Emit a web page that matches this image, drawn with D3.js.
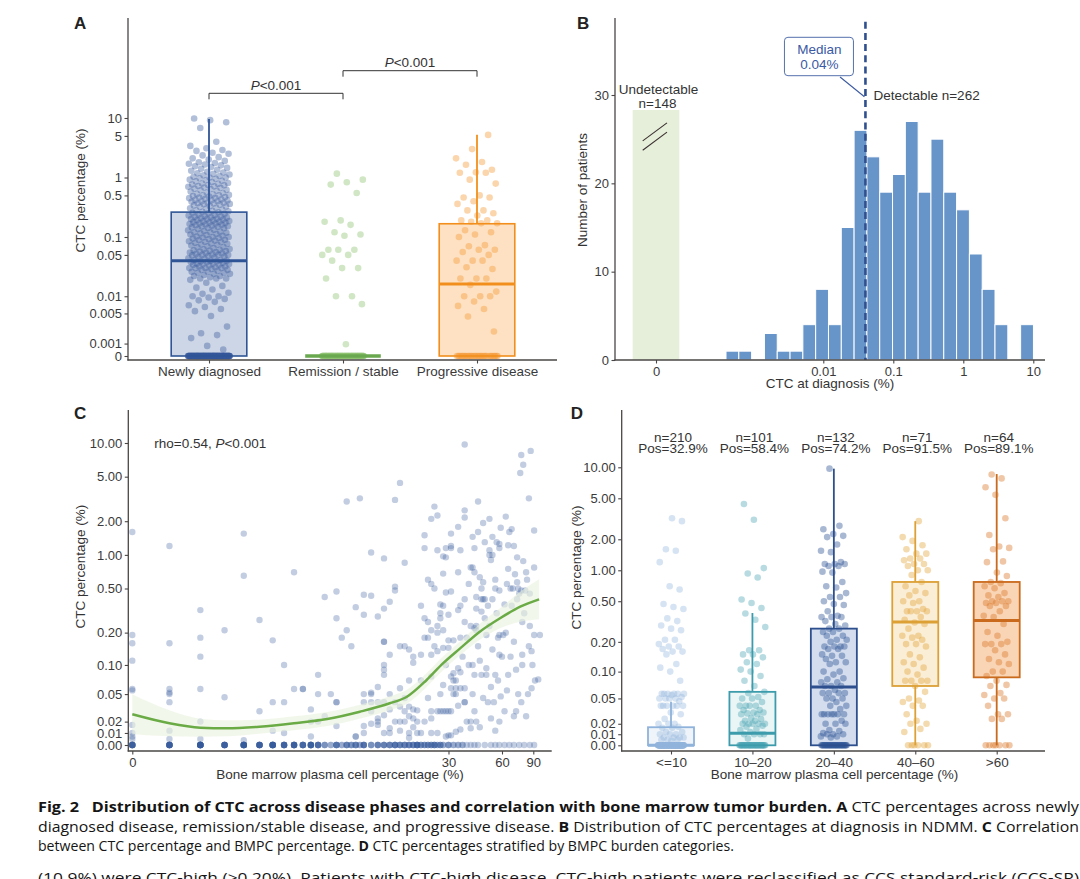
<!DOCTYPE html>
<html>
<head>
<meta charset="utf-8">
<title>Fig. 2 - CTC distribution and bone marrow tumor burden</title>
<script src="https://cdn.jsdelivr.net/npm/d3@7"></script>
<style>
body { margin: 0; background: #fff; }
svg { display: block; }
text { font-family: "Liberation Sans", Arial, sans-serif; fill: #333; }
.tick text { font-size: 13px; fill: #3a3a3a; }
.lbl { font-size: 13.5px; }
.panel { font-size: 17px; font-weight: bold; fill: #222; }
.cap { font-family: "Open Sans", sans-serif; font-size: 14.5px; fill: #151515; white-space: pre; }
</style>
</head>
<body>
<svg width="1080" height="879"></svg>
<script>

// ---------- A: CTC by disease phase ----------
var phases = ["Newly diagnosed", "Remission / stable", "Progressive disease"];
var newlyDetectable = [
  0.0005, 0.0008, 0.0015, 0.0018, 0.002, 0.0028, 0.0045, 0.0055, 0.006, 0.0065, 0.007,
  0.008, 0.0085, 0.009, 0.0095, 0.01, 0.01, 0.011, 0.0115, 0.013, 0.014, 0.015, 0.017,
  0.019, 0.02, 0.02, 0.02, 0.021, 0.022, 0.022, 0.023, 0.024, 0.024, 0.025, 0.025, 0.026, 0.026, 0.027,
  0.028, 0.028, 0.029, 0.03, 0.03, 0.03, 0.03, 0.031, 0.032, 0.032, 0.033, 0.034, 0.034, 0.035, 0.035,
  0.036, 0.036, 0.037, 0.038, 0.038, 0.039, 0.039, 0.04, 0.04, 0.041, 0.041,
  0.043, 0.044, 0.045, 0.046, 0.047, 0.048, 0.049, 0.05, 0.05, 0.05, 0.051, 0.052, 0.053, 0.054,
  0.055, 0.056, 0.057, 0.058, 0.059, 0.06, 0.061, 0.062, 0.063,
  0.065, 0.067, 0.068, 0.07, 0.072, 0.074, 0.075, 0.077, 0.078, 0.08, 0.082, 0.083, 0.085, 0.087,
  0.089, 0.09, 0.092, 0.094, 0.096,
  0.098, 0.1, 0.1, 0.102, 0.105, 0.108, 0.11, 0.112, 0.115, 0.118, 0.12, 0.12, 0.123, 0.126, 0.13,
  0.133, 0.136, 0.14, 0.142, 0.145, 0.148,
  0.15, 0.152, 0.155, 0.158, 0.16, 0.162, 0.165, 0.168, 0.17, 0.173, 0.175, 0.178, 0.18, 0.183,
  0.186, 0.19, 0.193, 0.196, 0.2, 0.2, 0.204, 0.208, 0.212, 0.215, 0.218, 0.222, 0.225,
  0.23, 0.235, 0.24, 0.245, 0.25, 0.255, 0.26, 0.265, 0.27, 0.275, 0.28, 0.29, 0.3, 0.305, 0.31,
  0.32, 0.325, 0.33, 0.34,
  0.35, 0.355, 0.36, 0.365, 0.37, 0.375, 0.38, 0.39, 0.4, 0.4, 0.41, 0.415, 0.42, 0.43, 0.44, 0.45,
  0.455, 0.46, 0.47, 0.48, 0.49, 0.5, 0.5, 0.51, 0.52,
  0.53, 0.55, 0.56, 0.58, 0.6, 0.61, 0.62, 0.64, 0.65, 0.67, 0.68, 0.7, 0.71, 0.72, 0.74, 0.75, 0.76, 0.78, 0.79,
  0.81, 0.84, 0.86, 0.88, 0.9, 0.92, 0.95, 0.97, 1, 1, 1.03, 1.06, 1.09, 1.12, 1.15, 1.18, 1.21,
  1.25, 1.3, 1.35, 1.4, 1.45, 1.5, 1.55, 1.6, 1.65, 1.7, 1.75, 1.8,
  1.9, 2, 2.1, 2.2, 2.35, 2.5, 2.6, 2.8,
  2.9, 3.1, 3.4, 4.0,
  6.8, 8.5, 9.2, 9.8
];
var remissionDetectable = [1.16, 0.92, 0.83, 0.76, 0.55, 0.19, 0.18, 0.16, 0.12, 0.11, 0.105,
  0.061, 0.061, 0.061, 0.05, 0.05, 0.04, 0.03, 0.03, 0.02, 0.01, 0.01, 0.0073, 0.00094];
var progressiveDetectable = [5.2, 3.0, 2.1, 1.82, 1.64, 1.35, 1.22, 1.2, 1.2, 0.92, 0.79, 0.5, 0.46,
  0.46, 0.4, 0.36, 0.28, 0.28, 0.25, 0.23, 0.19, 0.19, 0.18, 0.17, 0.17, 0.13, 0.12, 0.11, 0.1,
  0.073, 0.07, 0.061, 0.061, 0.056, 0.05, 0.04, 0.04, 0.04, 0.031, 0.029, 0.02, 0.02, 0.02,
  0.0156, 0.012, 0.01, 0.01, 0.01, 0.0081, 0.0068, 0.006, 0.0044, 0.0022];
var phaseZeroCounts = [148, 110, 33];
var phaseQ1 = [0, 0, 0];
var phaseMedian = [0.04, 0, 0.0162];
var phaseQ3 = [0.262, 0, 0.167];
var phaseWhiskerHi = [9.6, 0, 5.25];
var phasePvalues = ["<0.001", "<0.001"];
var ticksA = [0, 0.001, 0.005, 0.01, 0.05, 0.1, 0.5, 1, 5, 10];
var tickLabelsA = ["0", "0.001", "0.005", "0.01", "0.05", "0.1", "0.5", "1", "5", "10"];

// ---------- B: histogram at diagnosis ----------
var histLog10Start = -3.39;
var histLog10Width = 0.183;
var histCounts = [1, 1, 0, 3, 1, 1, 4, 8, 4, 15, 26, 23, 19, 21, 27, 19, 25, 19, 17, 12, 8, 4, 0, 4];
var undetectableCount = 148;
var detectableCount = 262;
var medianAtDiagnosis = 0.04;
var ticksBx = [0.01, 0.1, 1, 10];
var tickLabelsBx = ["0.01", "0.1", "1", "10"];
var ticksBy = [0, 10, 20, 30];

// ---------- C: CTC vs BMPC ----------
var bmpcCtc = [
  [0,1.6],[0,0.19],[0,0.16],[0,0.11],[0,0.057],[0,0.055],[0,0.017],[0,0.01],[0,0.007],[0,0.005],
  [0.5,1.2],[0.5,0.16],[0.5,0.057],[0.5,0.052],[0.5,0.05],[0.5,0.04],[0.5,0.012],[0.5,0.005],
  [1,0.32],[1,0.18],[1,0.12],[1,0.057],[1,0.02],[1,0.005],
  [1.5,0.21],[1.5,0.046],[2,1.55],[2,0.65],[2,0.004],[2.5,0.26],[2.5,0.03],
  [3,0.17],[3,0.04],[3,0.012],[3.5,0.1],[3.5,0.04],[3.5,0.01],[4,0.7],[4,0.057],
  [4.5,0.057],[4.5,0.057],[5,0.032],[5,0.02],[5,0.007],[5.5,0.08],[5.5,0.05],[5.5,0.02],
  [6,0.42],[6,0.025],[6.5,0.05],[7,0.47],[7,0.27],[7,0.04],[7,0.04],[7,0.016],[7.5,0.18],
  [8,3],[8,0.21],[8.5,0.15],[9,0.34],[9,0.007],[9,0.007],[9.5,3.2],
  [10,0.44],[10,0.29],[10,0.05],[10,0.04],[10,0.016],[10,0.01],
  [16,4.4],[15,3.1],[11,1.05],[13,0.93],[17,0.85],[15,0.52],[15,0.48],[11,0.43],[14,0.38],[13,0.33],
  [12,0.28],[13,0.165],[13,0.165],[16,0.15],[17,0.15],[18,0.14],[14,0.125],[19,0.12],[19,0.105],[13,0.1],
  [13,0.09],[13,0.08],[16,0.058],[18,0.07],[11,0.052],[11,0.05],[11,0.04],[12,0.04],[13,0.04],[14,0.032],
  [11,0.03],[13,0.026],[12,0.023],[17,0.045],[19,0.032],[20,0.031],[18,0.035],[11,0.018],[12,0.02],[12,0.017],
  [15,0.02],[16,0.02],[17,0.02],[19,0.023],[13,0.01],[14,0.01],[18,0.01],[20,0.01],[18,0.006],
  [12,0.06],[14,0.05],[15,0.04],[16,0.035],[17,0.03],[18,0.025],[19,0.015],[20,0.02],[14,0.014],[16,0.012],
  [25,2.7],[24,2.1],[26,2.25],[22,1.5],[22,1.15],[24,0.55],[26,1.1],[29,1.15],[29,0.95],[28,0.68],
  [27,0.36],[27,0.3],[22,0.27],[23,0.25],[27,0.27],[26,0.23],[24,0.21],[26,0.2],[23,0.18],[22,0.18],
  [30,0.17],[21,0.125],[24,0.125],[26,0.135],[28,0.145],[21,0.07],[24,0.077],[28,0.063],[24,0.03],[26,0.03],
  [27,0.03],[30,0.03],[24,0.023],[22,0.02],[21,0.01],[24,0.01],[26,0.01],[30,0.008],
  [37,9.7],[37,2.5],[37,2.16],[34,1.78],[31,1.55],[31,1.15],[31,1.2],[35,1.1],[28,0.97],[40,0.77],
  [39,0.55],[34,0.7],[29,0.46],[31,0.47],[37,0.4],[34,0.32],[35,0.35],[28,0.35],[30,0.29],[37,0.25],
  [40,0.23],[35,0.18],[32,0.17],[28,0.21],[30,0.145],[38,0.18],[39,0.1],[34,0.093],[32,0.083],[35,0.085],
  [31,0.077],[32,0.07],[33,0.07],[31,0.058],[33,0.058],[35,0.058],[37,0.058],[33,0.05],[37,0.04],[34,0.036],
  [28,0.03],[29,0.03],[31,0.03],[38,0.02],[40,0.02],[40,0.014],[35,0.013],[33,0.011],[31,0.008],[29,0.007],
  [32,0.05],[37,0.04],[25,0.5],[23,0.6],[21,0.35],[25,0.15],[29,0.1],[23,0.045],[27,0.05],[36,0.12],
  [44,3.0],[47,1.93],[51,2.1],[59,1.75],[41,1.45],[42,1.15],[53,1.45],[56,1.3],[58,1.25],[58,1.15],
  [51,1.1],[51,1.0],[53,1.0],[41,0.77],[42,0.7],[45,0.63],[47,0.57],[55,0.5],[58,0.48],[43,0.42],
  [46,0.4],[47,0.4],[48,0.4],[53,0.4],[43,0.33],[46,0.31],[48,0.27],[43,0.23],[42,0.22],[43,0.21],
  [51,0.23],[58,0.19],[57,0.18],[53,0.14],[58,0.125],[60,0.12],[45,0.11],[41,0.1],[49,0.093],[46,0.08],
  [49,0.08],[55,0.08],[57,0.07],[42,0.08],[41,0.05],[50,0.04],[54,0.04],[59,0.047],[42,0.03],[58,0.02],
  [52,0.023],[43,0.02],[44,1.6],[48,1.3],[52,0.9],[55,0.6],[46,0.5],[50,0.35],[56,0.3],[44,0.15],
  [52,0.06],[47,0.045],[45,0.015],[55,0.012],[49,0.19],
  [77,7.8],[87,8.5],[79,6.4],[76,5.4],[85,3.2],[63,2.2],[68,1.7],[91,1.65],[65,1.22],[73,0.95],
  [79,0.88],[91,0.77],[65,0.75],[71,0.67],[82,0.7],[73,0.57],[74,0.5],[77,0.48],[67,0.5],[69,0.5],
  [81,0.48],[86,0.45],[62,0.36],[73,0.4],[78,0.25],[86,0.23],[91,0.19],[98,0.19],[61,0.19],[70,0.165],
  [78,0.125],[88,0.135],[65,0.08],[72,0.09],[78,0.1],[89,0.1],[74,0.05],[84,0.05],[77,0.04],[88,0.058],
  [96,0.072],[72,0.03],[62,0.03],[66,1.6],[70,1.2],[83,0.6],[64,0.55],[75,0.45],[68,0.35],[80,0.3],
  [63,0.2],[85,0.15],[67,0.12],[92,0.07],[64,0.055],[82,0.025],[70,0.025]
];
// undetectable CTC: [BMPC %, number of patients]
var bmpcZeros = [
  [0,9],[0.5,10],[1,13],[1.5,9],[2,11],[2.5,9],[3,11],[3.5,8],[4,9],[4.5,7],[5,9],[5.5,6],
  [6,3],[6.5,2],[7,5],[7.5,2],[8,4],[8.5,3],[9,4],[9.5,2],[10,5],
  [11,3],[12,4],[13,4],[14,4],[15,5],[16,4],[17,4],[18,4],[19,4],[20,6],
  [21,3],[22,3],[23,3],[24,3],[25,4],[26,2],[27,3],[28,2],[30,3],[32,2],[34,2],[36,2],[38,1],[40,1],
  [42,1],[44,1],[48,1],[52,1],[55,1],[58,1],
  [62,1],[66,1],[70,1],[75,1],[80,1],[86,1],[91,1]
];
var smoothBmpc = [0, 0.5, 1, 1.55, 2.5, 4, 6.2, 9.5, 14, 17.5, 22.6, 28, 35, 45, 58.5, 76, 97];
var smoothCtc = [0.027, 0.0185, 0.0146, 0.014, 0.0154, 0.0185, 0.0224, 0.0296, 0.0387, 0.0466, 0.071, 0.104, 0.144, 0.204, 0.27, 0.343, 0.40];
var smoothLo = [0.0089, 0.0072, 0.0069, 0.0072, 0.0094, 0.0123, 0.016, 0.0227, 0.0311, 0.0382, 0.060, 0.0888, 0.124, 0.172, 0.219, 0.251, 0.264];
var smoothHi = [0.0498, 0.0311, 0.0227, 0.0212, 0.0218, 0.025, 0.0293, 0.0371, 0.0471, 0.056, 0.0835, 0.121, 0.167, 0.241, 0.332, 0.468, 0.604];
var rho = "0.54";
var ticksCx = [0, 30, 60, 90];
var ticksCy = [0, 0.01, 0.02, 0.05, 0.1, 0.2, 0.5, 1, 2, 5, 10];

// ---------- D: CTC by BMPC category ----------
var bmpcGroups = ["<=10", "10\u201320", "20\u201340", "40\u201360", ">60"];
var groupUpper = [10, 20, 40, 60, Infinity];
var groupN = [210, 101, 132, 71, 64];
var groupPos = ["32.9%", "58.4%", "74.2%", "91.5%", "89.1%"];
var groupQ1 = [0, 0, 0, 0.07, 0.087];
var groupMedian = [0, 0.0109, 0.068, 0.313, 0.325];
var groupQ3 = [0.0166, 0.06, 0.27, 0.77, 0.77];
var groupWhiskerLo = [0, 0, 0, 0, 0];
var groupWhiskerHi = [0.0455, 0.384, 9.7, 3.0, 8.6];

// ---------- drawing ----------
var svg = d3.select("svg");
var axisColor = "#4a4646";
var golden = 0.6180339887;
function spread(i, half) { return ((i * golden + 0.37) % 1 - 0.5) * 2 * half; }

function vline(g, x, y0, y1) {
  g.append("line").attr("x1", x).attr("x2", x).attr("y1", y0).attr("y2", y1)
    .attr("stroke", axisColor).attr("stroke-width", 1.3);
}
function hline(g, y, x0, x1) {
  g.append("line").attr("x1", x0).attr("x2", x1).attr("y1", y).attr("y2", y)
    .attr("stroke", axisColor).attr("stroke-width", 1.3);
}
function styleAxis(g) {
  g.attr("color", axisColor).select(".domain").remove();
  g.selectAll(".tick line").attr("stroke-width", 1.1);
}
function yTitle(x, y, txt) {
  svg.append("text").attr("class", "lbl").attr("text-anchor", "middle")
    .attr("transform", "translate(" + x + "," + y + ") rotate(-90)").text(txt);
}
function xTitle(x, y, txt) {
  svg.append("text").attr("class", "lbl").attr("text-anchor", "middle")
    .attr("x", x).attr("y", y).text(txt);
}
function panelLetter(x, y, txt) {
  svg.append("text").attr("class", "panel").attr("x", x).attr("y", y).text(txt);
}

// ===== Panel A =====
var tA = function(v) { return Math.asinh(v / 0.002); };
var yAlin = d3.scaleLinear().domain([0, tA(10)]).range([356, 118]);
var yA = function(v) { return yAlin(tA(v)); };
var xA = d3.scalePoint().domain(phases).range([209, 477]);
var gA = svg.append("g");

var phaseStroke = ["#2f5597", "#6aa84f", "#f28f1c"];
var phaseFill = ["#cdd6e6", "#dbeccf", "#fde1c2"];
var phasePoint = ["#34589a", "#8fc372", "#f69a3a"];
var phaseDetect = [newlyDetectable, remissionDetectable, progressiveDetectable];
var bw = 37.8;

phases.forEach(function(p, i) {
  var cx = xA(p);
  gA.append("rect").attr("x", cx - bw).attr("width", bw * 2)
    .attr("y", yA(phaseQ3[i])).attr("height", yA(phaseQ1[i]) - yA(phaseQ3[i]))
    .attr("fill", phaseFill[i]);
  var vals = d3.range(phaseZeroCounts[i]).map(function() { return 0; }).concat(phaseDetect[i]);
  gA.append("g").selectAll("circle").data(vals).join("circle")
    .attr("cx", function(d, j) { return cx + spread(j, 21); })
    .attr("cy", function(d) { return yA(d); })
    .attr("r", 3.3)
    .attr("fill", phasePoint[i])
    .attr("fill-opacity", i === 0 ? 0.38 : 0.42);
  gA.append("line").attr("x1", cx).attr("x2", cx)
    .attr("y1", yA(phaseQ3[i])).attr("y2", yA(phaseWhiskerHi[i]))
    .attr("stroke", phaseStroke[i]).attr("stroke-width", 1.8);
  gA.append("rect").attr("x", cx - bw).attr("width", bw * 2)
    .attr("y", yA(phaseQ3[i])).attr("height", yA(phaseQ1[i]) - yA(phaseQ3[i]))
    .attr("fill", "none").attr("stroke", phaseStroke[i]).attr("stroke-width", 1.6);
  gA.append("line").attr("x1", cx - bw).attr("x2", cx + bw)
    .attr("y1", yA(phaseMedian[i])).attr("y2", yA(phaseMedian[i]))
    .attr("stroke", phaseStroke[i]).attr("stroke-width", i === 1 ? 3.6 : 3);
});

gA.append("g").attr("transform", "translate(128,0)")
  .call(d3.axisLeft(yAlin).tickValues(ticksA.map(tA))
    .tickFormat(function(d, i) { return tickLabelsA[i]; }).tickSize(3.5).tickPadding(2.5))
  .call(styleAxis);
gA.append("g").attr("transform", "translate(0,360)")
  .call(d3.axisBottom(xA).tickSize(3.5).tickPadding(3))
  .call(styleAxis)
  .selectAll(".tick text").style("font-size", "13.5px");
vline(gA, 128, 18, 360.6);
hline(gA, 360, 127.4, 557);

// significance brackets
[[0, 1, 93.3], [1, 2, 70.7]].forEach(function(b, k) {
  var x0 = xA(phases[b[0]]), x1 = xA(phases[b[1]]);
  gA.append("path")
    .attr("d", "M" + x0 + "," + (b[2] + 6) + "V" + b[2] + "H" + x1 + "V" + (b[2] + 6))
    .attr("fill", "none").attr("stroke", "#333").attr("stroke-width", 1);
  var t = gA.append("text").attr("class", "lbl").attr("text-anchor", "middle")
    .attr("x", (x0 + x1) / 2).attr("y", b[2] - 3.5);
  t.append("tspan").style("font-style", "italic").text("P");
  t.append("tspan").text(phasePvalues[k]);
});
yTitle(84.5, 190.5, "CTC percentage (%)");
panelLetter(74, 29, "A");

// ===== Panel B =====
var xB = d3.scaleLog().domain([0.01, 10]).range([823.3, 1033.3]);
var yB = d3.scaleLinear().domain([0, 30]).range([360, 95]);
var gB = svg.append("g");
var zeroLog = histLog10Start - 1;
var bins = histCounts.map(function(c, i) {
  return { lo: Math.pow(10, histLog10Start + i * histLog10Width),
           hi: Math.pow(10, histLog10Start + (i + 1) * histLog10Width), n: c };
});

// undetectable bar (truncated, count shown in label)
var undetTop = 28.3;
gB.append("rect")
  .attr("x", xB(Math.pow(10, zeroLog - 0.333)))
  .attr("width", xB(Math.pow(10, zeroLog + 0.333)) - xB(Math.pow(10, zeroLog - 0.333)))
  .attr("y", yB(undetTop)).attr("height", yB(0) - yB(undetTop))
  .attr("fill", "#e6efda");
[0, 1].forEach(function(k) {
  var xm = xB(Math.pow(10, zeroLog));
  gB.append("line")
    .attr("x1", xm - 13.3).attr("y1", yB(24.8 - k * 1.05))
    .attr("x2", xm + 11).attr("y2", yB(26.85 - k * 1.05))
    .attr("stroke", "#3a3030").attr("stroke-width", 1.1);
});

gB.append("g").selectAll("rect").data(bins.filter(function(d) { return d.n > 0; })).join("rect")
  .attr("x", function(d) { return xB(d.lo); })
  .attr("width", function(d) { return xB(d.hi) - xB(d.lo); })
  .attr("y", function(d) { return yB(d.n); })
  .attr("height", function(d) { return yB(0) - yB(d.n); })
  .attr("fill", "#6795c9").attr("stroke", "#fff").attr("stroke-width", 1);

// median line + label
var xMed = xB(medianAtDiagnosis);
gB.append("line").attr("x1", xMed).attr("x2", xMed).attr("y1", 21.7).attr("y2", 360)
  .attr("stroke", "#2f4f8f").attr("stroke-width", 2.6).attr("stroke-dasharray", "7,4.2");
gB.append("line").attr("x1", xMed - 25.4).attr("y1", 77).attr("x2", xMed - 1).attr("y2", 96.7)
  .attr("stroke", "#3c5aa0").attr("stroke-width", 1.1);
gB.append("rect").attr("x", xMed - 81).attr("y", 37.3).attr("width", 69).attr("height", 38.4)
  .attr("rx", 3.5).attr("fill", "#fff").attr("stroke", "#5470ad").attr("stroke-width", 1);
gB.append("text").attr("class", "lbl").attr("text-anchor", "middle")
  .attr("x", xMed - 46).attr("y", 54).style("fill", "#3b5aa3").text("Median");
gB.append("text").attr("class", "lbl").attr("text-anchor", "middle")
  .attr("x", xMed - 46).attr("y", 69).style("fill", "#3b5aa3")
  .text(d3.format(".2f")(medianAtDiagnosis) + "%");
gB.append("text").attr("class", "lbl").attr("x", xMed + 8).attr("y", 100)
  .text("Detectable n=" + detectableCount);
gB.append("text").attr("class", "lbl").attr("text-anchor", "middle")
  .attr("x", xB(Math.pow(10, zeroLog)) + 2.5).attr("y", 94).text("Undetectable");
gB.append("text").attr("class", "lbl").attr("text-anchor", "middle")
  .attr("x", xB(Math.pow(10, zeroLog)) + 1.5).attr("y", 107.5).text("n=" + undetectableCount);

gB.append("g").attr("transform", "translate(615,0)")
  .call(d3.axisLeft(yB).tickValues(ticksBy).tickSize(3.5).tickPadding(2.5))
  .call(styleAxis);
gB.append("g").attr("transform", "translate(0,360)")
  .call(d3.axisBottom(xB).tickValues([Math.pow(10, zeroLog)].concat(ticksBx))
    .tickFormat(function(d, i) { return i === 0 ? "0" : tickLabelsBx[i - 1]; })
    .tickSize(3.5).tickPadding(3))
  .call(styleAxis);
vline(gB, 615, 18, 360.6);
hline(gB, 360, 614.4, 1045);
yTitle(587, 190, "Number of patients");
xTitle(830, 388, "CTC at diagnosis (%)");
panelLetter(577, 28.7, "B");

// ===== Panel C =====
var tC = function(v) { return Math.asinh(v / 0.04); };
var xClin = d3.scaleLinear().domain([0, Math.asinh(90)]).range([132.3, 533.3]);
var yClin = d3.scaleLinear().domain([0, tC(10)]).range([745, 443]);
var xC = function(b) { return xClin(Math.asinh(b)); };
var yC = function(v) { return yClin(tC(v)); };
var gC = svg.append("g");

var cPoints = [];
bmpcZeros.forEach(function(z) {
  d3.range(z[1]).forEach(function() { cPoints.push([z[0], 0]); });
});
cPoints = cPoints.concat(bmpcCtc);

gC.append("g").selectAll("circle").data(cPoints).join("circle")
  .attr("cx", function(d) { return xC(d[0]); })
  .attr("cy", function(d) { return yC(d[1]); })
  .attr("r", 3.2)
  .attr("fill", "#34589a").attr("fill-opacity", 0.3);

var smooth = smoothBmpc.map(function(b, i) {
  return { b: b, v: smoothCtc[i], lo: smoothLo[i], hi: smoothHi[i] };
});
gC.append("path").datum(smooth)
  .attr("d", d3.area().curve(d3.curveMonotoneX)
    .x(function(d) { return xC(d.b); })
    .y0(function(d) { return yC(d.lo); })
    .y1(function(d) { return yC(d.hi); }))
  .attr("fill", "#e9f1de").attr("fill-opacity", 0.6);
gC.append("path").datum(smooth)
  .attr("d", d3.line().curve(d3.curveMonotoneX)
    .x(function(d) { return xC(d.b); })
    .y(function(d) { return yC(d.v); }))
  .attr("fill", "none").attr("stroke", "#6aab46").attr("stroke-width", 2.5);

gC.append("g").attr("transform", "translate(128.3,0)")
  .call(d3.axisLeft(yClin).tickValues(ticksCy.map(tC))
    .tickFormat(function(d, i) { return d3.format(".2f")(ticksCy[i]); }).tickSize(3.5).tickPadding(2.5))
  .call(styleAxis);
gC.append("g").attr("transform", "translate(0,751)")
  .call(d3.axisBottom(xClin).tickValues(ticksCx.map(Math.asinh))
    .tickFormat(function(d, i) { return ticksCx[i]; }).tickSize(3.5).tickPadding(3))
  .call(styleAxis);
vline(gC, 128.3, 410, 751.6);
hline(gC, 751, 127.7, 551.7);
var rt = gC.append("text").attr("class", "lbl").attr("x", 154.3).attr("y", 448);
rt.append("tspan").text("rho=" + rho + ", ");
rt.append("tspan").style("font-style", "italic").text("P");
rt.append("tspan").text("<0.001");
yTitle(84.5, 566.7, "CTC percentage (%)");
xTitle(340, 779, "Bone marrow plasma cell percentage (%)");
panelLetter(74, 419, "C");

// ===== Panel D =====
var yDlin = d3.scaleLinear().domain([0, tC(10)]).range([745.3, 467.3]);
var yD = function(v) { return yDlin(tC(v)); };
var xD = d3.scalePoint().domain(bmpcGroups).range([671, 996.7]);
var gD = svg.append("g");
var groupStroke = ["#8fb3da", "#3d9cab", "#2d4f8e", "#dca035", "#c96a1c"];
var groupFill = ["#eef4fa", "#eaf5f6", "#d3ddee", "#fbeed6", "#f9d5b6"];
var groupPoint = ["#92b5de", "#4aa6b3", "#2f5597", "#e3a640", "#dc7a2c"];
var groupOpacity = [0.38, 0.4, 0.42, 0.42, 0.42];
var dbw = 23;

var groupVals = bmpcGroups.map(function() { return []; });
cPoints.forEach(function(d) {
  groupVals[d3.bisectLeft(groupUpper, d[0])].push(d[1]);
});

bmpcGroups.forEach(function(g, i) {
  var cx = xD(g);
  gD.append("rect").attr("x", cx - dbw).attr("width", dbw * 2)
    .attr("y", yD(groupQ3[i])).attr("height", yD(groupQ1[i]) - yD(groupQ3[i]))
    .attr("fill", groupFill[i]);
  var vals = groupVals[i].slice().sort(d3.ascending);
  gD.append("g").selectAll("circle").data(vals).join("circle")
    .attr("cx", function(d, j) { return cx + spread(j, 13); })
    .attr("cy", function(d) { return yD(d); })
    .attr("r", 3.3)
    .attr("fill", groupPoint[i]).attr("fill-opacity", groupOpacity[i]);
  gD.append("line").attr("x1", cx).attr("x2", cx)
    .attr("y1", yD(groupQ3[i])).attr("y2", yD(groupWhiskerHi[i]))
    .attr("stroke", groupStroke[i]).attr("stroke-width", 1.8);
  gD.append("line").attr("x1", cx).attr("x2", cx)
    .attr("y1", yD(groupQ1[i])).attr("y2", yD(groupWhiskerLo[i]))
    .attr("stroke", groupStroke[i]).attr("stroke-width", 1.8);
  gD.append("rect").attr("x", cx - dbw).attr("width", dbw * 2)
    .attr("y", yD(groupQ3[i])).attr("height", yD(groupQ1[i]) - yD(groupQ3[i]))
    .attr("fill", "none").attr("stroke", groupStroke[i]).attr("stroke-width", 1.8);
  gD.append("line").attr("x1", cx - dbw).attr("x2", cx + dbw)
    .attr("y1", yD(groupMedian[i])).attr("y2", yD(groupMedian[i]))
    .attr("stroke", groupStroke[i]).attr("stroke-width", 3);
  gD.append("text").attr("class", "lbl").attr("text-anchor", "middle")
    .attr("x", cx + 2).attr("y", 441.5).text("n=" + groupN[i]);
  gD.append("text").attr("class", "lbl").attr("text-anchor", "middle")
    .attr("x", cx + 2).attr("y", 452.5).text("Pos=" + groupPos[i]);
});

gD.append("g").attr("transform", "translate(621.7,0)")
  .call(d3.axisLeft(yDlin).tickValues(ticksCy.map(tC))
    .tickFormat(function(d, i) { return d3.format(".2f")(ticksCy[i]); }).tickSize(3.5).tickPadding(2.5))
  .call(styleAxis);
gD.append("g").attr("transform", "translate(0,751)")
  .call(d3.axisBottom(xD).tickSize(3.5).tickPadding(3))
  .call(styleAxis)
  .selectAll(".tick text").style("font-size", "13.5px");
vline(gD, 621.7, 410, 751.6);
hline(gD, 751, 621.1, 1045);
yTitle(581, 567.5, "CTC percentage (%)");
xTitle(834.5, 779, "Bone marrow plasma cell percentage (%)");
panelLetter(570.7, 419, "D");

// ===== caption =====
var captionLines = [
  [["Fig. 2   Distribution of CTC across disease phases and correlation with bone marrow tumor burden. A", 1],
   [" CTC percentages across newly", 0]],
  [["diagnosed disease, remission/stable disease, and progressive disease. ", 0], ["B", 1],
   [" Distribution of CTC percentages at diagnosis in NDMM. ", 0], ["C", 1], [" Correlation", 0]],
  [["between CTC percentage and BMPC percentage. ", 0], ["D", 1],
   [" CTC percentages stratified by BMPC burden categories.", 0]],
  [["(10.9%) were CTC-high (\u22650.20%). Patients with CTC-high disease, CTC-high patients were reclassified as CCS standard-risk (CCS-SR)", 0]]
];
var captionY = [812, 831.7, 851.2, 882.8];
var captionWidth = [1041, 1041, null, 1041];
captionLines.forEach(function(parts, i) {
  var t = svg.append("text").attr("class", "cap").attr("x", 38).attr("y", captionY[i]);
  if (captionWidth[i]) t.attr("textLength", captionWidth[i]).attr("lengthAdjust", "spacingAndGlyphs");
  else t.style("font-size", "14.1px");
  parts.forEach(function(p) {
    t.append("tspan").style("font-weight", p[1] ? "bold" : "normal").text(p[0]);
  });
});

</script>
</body>
</html>
